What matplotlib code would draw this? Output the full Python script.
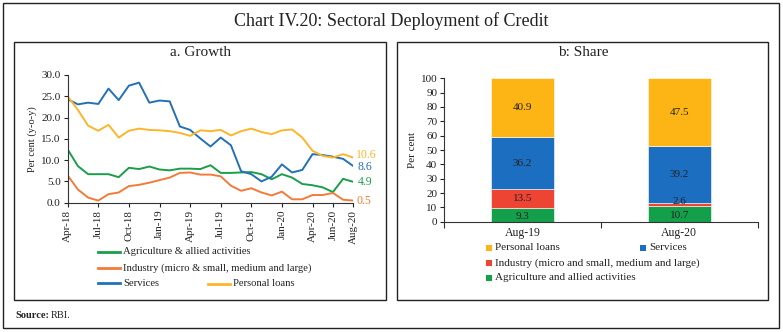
import matplotlib
matplotlib.use("Agg")
import matplotlib.pyplot as plt
from matplotlib.patches import Rectangle
from matplotlib.lines import Line2D
import numpy as np

plt.rcParams['font.family'] = ['Liberation Serif', 'DejaVu Serif']

# ---------------- data ----------------
months = ["Apr-18", "May-18", "Jun-18", "Jul-18", "Aug-18", "Sep-18", "Oct-18", "Nov-18", "Dec-18",
          "Jan-19", "Feb-19", "Mar-19", "Apr-19", "May-19", "Jun-19", "Jul-19", "Aug-19", "Sep-19",
          "Oct-19", "Nov-19", "Dec-19", "Jan-20", "Feb-20", "Mar-20", "Apr-20", "May-20", "Jun-20",
          "Jul-20", "Aug-20"]
tick_months = ["Apr-18", "Jul-18", "Oct-18", "Jan-19", "Apr-19", "Jul-19", "Oct-19", "Jan-20",
               "Apr-20", "Jun-20", "Aug-20"]

agriculture = [12.5, 8.6, 6.7, 6.7, 6.7, 6.0, 8.2, 7.9, 8.5, 7.8, 7.6, 8.0, 8.0, 7.9, 8.8, 7.0,
               7.0, 7.1, 7.2, 6.7, 5.5, 6.7, 5.9, 4.4, 4.1, 3.6, 2.5, 5.6, 4.9]
industry = [6.4, 3.1, 1.2, 0.5, 2.0, 2.4, 3.9, 4.2, 4.7, 5.3, 5.9, 7.0, 7.1, 6.6, 6.6, 6.2,
            4.0, 2.8, 3.4, 2.4, 1.7, 2.6, 0.8, 0.8, 1.8, 1.8, 2.3, 0.7, 0.5]
services = [24.3, 23.1, 23.5, 23.2, 26.8, 24.1, 27.5, 28.2, 23.5, 24.0, 23.8, 17.9, 17.1, 15.1,
            13.2, 15.3, 13.5, 7.4, 6.7, 5.0, 6.1, 9.0, 7.1, 7.7, 11.4, 11.2, 10.8, 10.3, 8.6]
personal = [25.0, 21.8, 18.1, 16.9, 18.3, 15.3, 16.9, 17.4, 17.1, 17.0, 16.8, 16.4, 15.7, 17.0,
            16.8, 17.1, 15.8, 16.8, 17.4, 16.6, 16.1, 17.0, 17.2, 15.3, 12.2, 11.0, 10.6, 11.4, 10.6]

share_periods = ["Aug-19", "Aug-20"]
share_agri = [9.3, 10.7]
share_industry = [13.5, 2.6]
share_services = [36.2, 39.2]
share_personal = [40.9, 47.5]

# ---------------- colours ----------------
c_green = "#1a9e4a"
c_orange = "#f47a3a"
c_blue = "#2271b8"
c_yellow = "#fdb62b"
b_yellow = "#fdb515"
b_blue = "#1c6fc0"
b_red = "#ee4433"
b_green = "#14a04a"

W, H = 783, 332
fig = plt.figure(figsize=(W / 100, H / 100), dpi=100)


def fx(px):
    return px / W


def fy(py):
    return 1 - py / H


# outer border and panel boxes
fig.patches.append(Rectangle((fx(3), fy(328)), fx(776), (325) / H, transform=fig.transFigure,
                             fill=False, edgecolor="#222222", linewidth=1.0))
fig.patches.append(Rectangle((fx(14), fy(300)), fx(372), 258 / H, transform=fig.transFigure,
                             fill=False, edgecolor="#222222", linewidth=1.0))
fig.patches.append(Rectangle((fx(397), fy(300)), fx(371), 258 / H, transform=fig.transFigure,
                             fill=False, edgecolor="#222222", linewidth=1.0))

fig.text(0.5, fy(21), "Chart IV.20: Sectoral Deployment of Credit", ha="center", va="center",
         fontsize=13, color="#222222")
fig.text(fx(200), fy(53), "a. Growth", ha="center", va="center", fontsize=11, color="#222222")
fig.text(fx(583), fy(53), "b: Share", ha="center", va="center", fontsize=11, color="#222222")
fig.text(fx(15), fy(315), "Source:", ha="left", va="center", fontsize=7.5, fontweight="bold",
         color="#222222")
fig.text(fx(51), fy(315), "RBI.", ha="left", va="center", fontsize=7.5, color="#222222")

# ---------------- left: line chart ----------------
ax1 = fig.add_axes([fx(67.7), fy(202.7), fx(353.3 - 67.7), (202.7 - 75) / H])
x = np.arange(len(months))
ax1.plot(x, agriculture, color=c_green, lw=1.4)
ax1.plot(x, industry, color=c_orange, lw=1.4)
ax1.plot(x, services, color=c_blue, lw=1.4)
ax1.plot(x, personal, color=c_yellow, lw=1.4)
ax1.set_xlim(0, len(months) - 1)
ax1.set_ylim(0, 30)
ax1.set_yticks(np.arange(0, 30.1, 5))
ax1.set_yticklabels([f"{v:.1f}" for v in np.arange(0, 30.1, 5)])
ax1.set_xticks([months.index(m) for m in tick_months])
ax1.set_xticklabels(tick_months, rotation=90)
for s in ["top", "right"]:
    ax1.spines[s].set_visible(False)
for s in ["left", "bottom"]:
    ax1.spines[s].set_color("#333333")
    ax1.spines[s].set_linewidth(0.8)
ax1.tick_params(axis="both", labelsize=8, colors="#222222", length=3, width=0.8, pad=2)
ax1.set_ylabel("Per cent (y-o-y)", fontsize=7.5, color="#222222", labelpad=3)

last = len(months) - 1
ax1.annotate(f"{personal[-1]:.1f}", (last, personal[-1]), xytext=(2, 2), textcoords="offset points",
             fontsize=8.5, color=c_yellow, va="center", ha="left", annotation_clip=False)
ax1.annotate(f"{services[-1]:.1f}", (last, services[-1]), xytext=(3, -1), textcoords="offset points",
             fontsize=8.5, color=c_blue, va="center", ha="left", annotation_clip=False)
ax1.annotate(f"{agriculture[-1]:.1f}", (last, agriculture[-1]), xytext=(3, 0), textcoords="offset points",
             fontsize=8.5, color=c_green, va="center", ha="left", annotation_clip=False)
ax1.annotate(f"{industry[-1]:.1f}", (last, industry[-1]), xytext=(2, 0), textcoords="offset points",
             fontsize=8.5, color=c_orange, va="center", ha="left", annotation_clip=False)

# legend for line chart (manual layout)
leg_items = [
    ("Agriculture & allied activities", c_green, 98, 252),
    ("Industry (micro & small, medium and large)", c_orange, 98, 268),
    ("Services", c_blue, 98, 283),
    ("Personal loans", c_yellow, 208, 284),
]
for label, col, px, py in leg_items:
    fig.lines.append(Line2D([fx(px), fx(px + 22)], [fy(py), fy(py)], transform=fig.transFigure,
                            color=col, lw=2))
    fig.text(fx(px + 25), fy(py), label, ha="left", va="center", fontsize=7.7, color="#222222")

# ---------------- right: stacked bar chart ----------------
ax2 = fig.add_axes([fx(444.3), fy(221.7), fx(757.7 - 444.3), (221.7 - 78.3) / H])
xb = np.arange(len(share_periods))
bw = 0.4
bottom = np.zeros(len(share_periods))
segments = [share_agri, share_industry, share_services, share_personal]
seg_colors = [b_green, b_red, b_blue, b_yellow]
for vals, col in zip(segments, seg_colors):
    vals = np.array(vals)
    ax2.bar(xb, vals, bw, bottom=bottom, color=col, edgecolor="white", linewidth=0.4)
    for xi, v, b0 in zip(xb, vals, bottom):
        yc = b0 + v / 2
        if v < 5:
            yc += 1.8
        elif b0 == 0 and v < 12:
            yc -= 1.2
        ax2.text(xi, yc, f"{v:.1f}", ha="center", va="center", fontsize=8, color="#222222")
    bottom = bottom + vals

ax2.set_xlim(-0.5, 1.5)
ax2.set_ylim(0, 100)
ax2.set_yticks(np.arange(0, 101, 10))
ax2.set_xticks(xb)
ax2.set_xticklabels(share_periods)
ax2.set_xticks([-0.5, 0.5, 1.5], minor=True)
ax2.tick_params(axis="x", which="major", length=0, labelsize=8.5, colors="#222222", pad=4)
ax2.tick_params(axis="x", which="minor", length=4, width=0.8, color="#333333")
ax2.tick_params(axis="y", labelsize=8, colors="#222222", length=3, width=0.8, pad=2)
for s in ["top", "right"]:
    ax2.spines[s].set_visible(False)
for s in ["left", "bottom"]:
    ax2.spines[s].set_color("#333333")
    ax2.spines[s].set_linewidth(0.8)
ax2.set_ylabel("Per cent", fontsize=8, color="#222222", labelpad=3)

bar_leg = [
    ("Personal loans", b_yellow, 486, 248),
    ("Services", b_blue, 640, 248),
    ("Industry (micro and small, medium and large)", b_red, 486, 263),
    ("Agriculture and allied activities", b_green, 486, 278),
]
for label, col, px, py in bar_leg:
    fig.patches.append(Rectangle((fx(px), fy(py + 3)), fx(6), 6 / H, transform=fig.transFigure,
                                 facecolor=col, edgecolor="none"))
    fig.text(fx(px + 9), fy(py), label, ha="left", va="center", fontsize=8, color="#222222")

fig.savefig("out.png", dpi=100)
